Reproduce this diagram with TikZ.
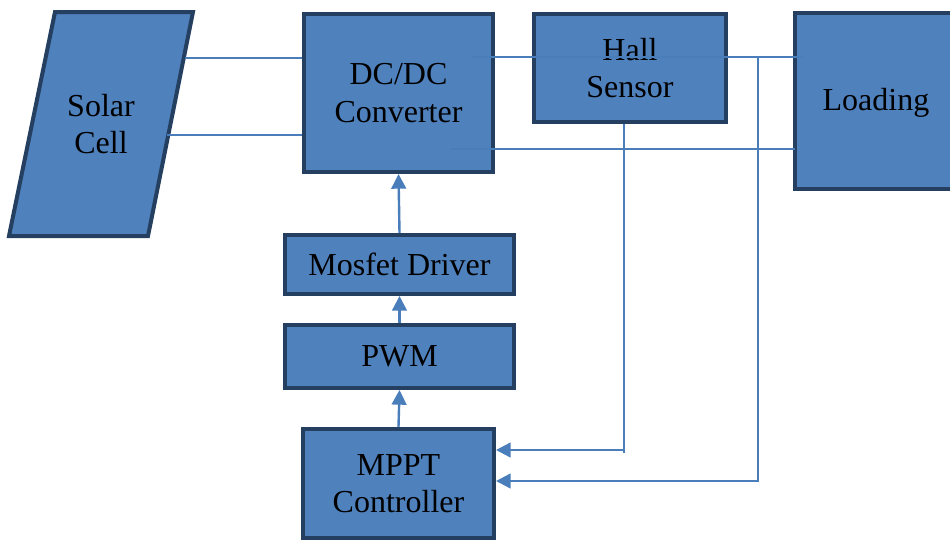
\documentclass[tikz,border=0pt]{standalone}
\usepackage{fontspec}
\setmainfont{Liberation Serif}
\usetikzlibrary{arrows.meta}
\definecolor{boxfill}{HTML}{4F81BD}
\definecolor{boxline}{HTML}{243F60}
\definecolor{wireblue}{HTML}{4A7EBB}
\begin{document}
\begin{tikzpicture}[x=0.75pt,y=-0.75pt,
	blok/.style={draw=boxline,line width=3pt,fill=boxfill,align=center,inner sep=0pt,font=\fontsize{24}{28}\selectfont},
	wire/.style={color=wireblue,line width=1.8pt},
	sig/.style={wire,-{Triangle[length=11pt,width=11pt]}}]
	\useasboundingbox (0,0) rectangle (950,540);
	\draw[blok] (9,236) -- (55,12) -- (193,12) -- (148,236) -- cycle; % le panneau
	\node[align=center,font=\fontsize{24}{28}\selectfont] (solar) at (101,124) {Solar\\Cell};
	\coordinate (s1) at (185,58);
	\coordinate (s2) at (167,135);
	\node[blok,minimum width=141.75pt,minimum height=118.5pt] (dcdc) at (398.5,93) {DC/DC\\Converter};
	\node[blok,minimum width=144pt,minimum height=81pt] (hall) at (630,68) {Hall\\Sensor};
	\node[blok,minimum width=121.5pt,minimum height=132pt,text depth=2pt] (load) at (876,101) {Loading};
	\node[blok,minimum width=171.75pt,minimum height=44.25pt] (mos) at (399.5,264.5) {Mosfet Driver};
	\node[blok,minimum width=171.75pt,minimum height=47.25pt] (pwm) at (399.5,356.5) {PWM};
	\node[blok,minimum width=143.25pt,minimum height=81.75pt] (mppt) at (398.5,483.5) {MPPT\\Controller};
	% les fils
	\draw[wire] (s1) -- (s1 -| dcdc.west);
	\draw[wire] (s2) -- (s2 -| dcdc.west);
	\coordinate (p1) at (472,57);
	\coordinate (p2) at (803,57);
	\coordinate (q1) at (450,149);
	\coordinate (q2) at (795,149);
	\draw[wire] (p1) -- (p2);
	\draw[wire] (q1) -- (q2);
	% la commande
	\draw[sig] (mppt.north) -- (pwm.south);
	\draw[sig] (pwm.north) -- (mos.south);
	\draw[sig] (mos.north) -- (dcdc.south);
	% les retours
	\coordinate (fb1) at (624,450);
	\coordinate (fb2) at (758,481);
	\draw[wire] (hall.south -| fb1) -- ([yshift=-2.5pt]fb1);
	\draw[sig] (fb1) -- (fb1 -| mppt.east);
	\draw[sig] (fb2 |- p2) -- (fb2) -- (fb2 -| mppt.east);
\end{tikzpicture}
\end{document}
